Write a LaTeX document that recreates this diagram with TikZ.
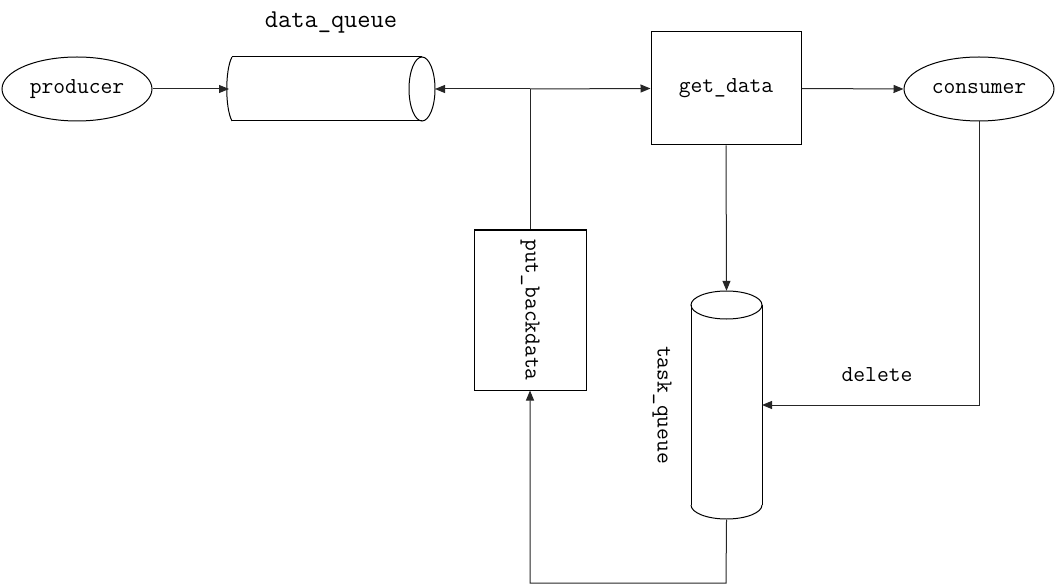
\documentclass[tikz,border=0pt]{standalone}
\usetikzlibrary{arrows.meta,shapes.geometric}
\begin{document}
\begin{tikzpicture}[x=1pt,y=-1pt,
  lbl/.style={font=\fontsize{22.9}{26}\selectfont\ttfamily, inner sep=0pt},
  shp/.style={draw=black, line width=1pt},
  conn/.style={draw=black!85, line width=1pt},
  arr/.style={conn, -{Triangle[length=10pt,width=8pt]}}]
\useasboundingbox (0,0) rectangle (1056,585);
% producer
\node[shp, ellipse, minimum width=150pt, minimum height=64pt, lbl] (prod) at (77,89) {producer};
% consumer
\node[shp, ellipse, minimum width=150pt, minimum height=64pt, lbl] (cons) at (979,89) {consumer};
% get_data
\node[shp, rectangle, minimum width=150pt, minimum height=113pt, lbl] (get) at (726,88.5) {get\_data};
% put_backdata
\node[shp, rectangle, minimum width=112pt, minimum height=160pt] (put) at (530,310) {};
\node[lbl, rotate=-90] (putl) at (530,310) {put\_backdata};
% data_queue (horizontal cylinder)
\node[minimum width=206pt, minimum height=64pt, inner sep=0pt] (dq) at (332,89) {};
\draw[shp] (232,57) -- (422,57) (232,121) -- (422,121);
\draw[shp] (232,57) .. controls (225,70) and (225,108) .. (232,121);
\draw[shp] (422,89) ellipse [x radius=13, y radius=32];
\node[font=\fontsize{25.7}{28}\selectfont\ttfamily, inner sep=0pt] (dql) at (331,23) {data\_queue};
% task_queue (vertical cylinder)
\node[minimum width=71pt, minimum height=229pt, inner sep=0pt] (tq) at (726.5,405.5) {};
\draw[shp] (691,305) -- (691,505) (762,305) -- (762,505);
\draw[shp] (726.5,305) ellipse [x radius=35.5, y radius=14];
\draw[shp] (691,505) arc[start angle=180, end angle=0, x radius=35.5, y radius=14];
\node[lbl, rotate=-90] (tql) at (662,405) {task\_queue};
% delete label
\node[lbl] (del) at (877,375) {delete};
% connectors
\coordinate (j) at (530,89);
\coordinate (dqr) at (435,89);
\draw[arr] (prod.east) -- (229,89);
\draw[arr] (j) -- (dqr);
\draw[arr] (j) -- (get.west);
\draw[conn] (j) -- (put.north);
\draw[arr] (get.east) -- (cons.west);
\draw[arr] (get.south) -- (tq.north);
\coordinate (c1) at (979,405);
\draw[arr] (cons.south) -- (c1) -- (762,405);
\coordinate (b1) at (726,583);
\coordinate (b2) at (530,583);
\draw[arr] (tq.south) -- (b1) -- (b2) -- (put.south);
\end{tikzpicture}
\end{document}
